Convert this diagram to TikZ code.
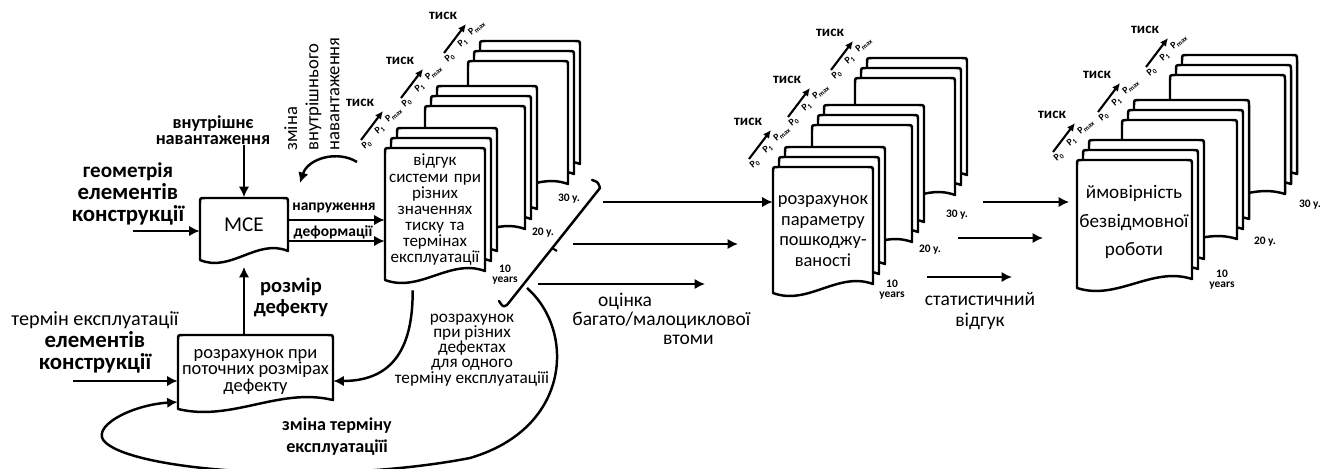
\documentclass[tikz,border=0pt]{standalone}
\usepackage{fontspec}
\setmainfont{Carlito}
\usetikzlibrary{arrows.meta, positioning, calc}

% one page of a document stack: x, y (top left), width, height in pixels
\newcommand{\sheet}[4]{%
  \draw[sheetline] (#1,#2+#4) -- (#1,#2+5) .. controls (#1,#2) .. (#1+5,#2)
    -- (#1+#3-5,#2) .. controls (#1+#3,#2) .. (#1+#3,#2+5)
    -- (#1+#3,#2+#4-9) .. controls (#1+0.65*#3,#2+#4-22) and (#1+0.35*#3,#2+#4+13) .. (#1,#2+#4) -- cycle;}

\begin{document}
\begin{tikzpicture}[x=0.02cm, y=-0.02cm,
        sheetline/.style={draw=black, line width=1.4pt, fill=white, line join=round},
        arrow/.style={-{Latex[length=2.1mm, width=2.1mm]}, line width=1.4pt},
        tiskarrow/.style={-{Latex[length=1.6mm, width=1.5mm]}, line width=1.2pt},
        lbl/.style={align=center, inner sep=0pt},
        tisk/.style={lbl, font=\bfseries\fontsize{8.5}{9}\selectfont},
        pval/.style={lbl, rotate=40, font=\bfseries\fontsize{5.6}{6}\selectfont},
        yr/.style={lbl, font=\bfseries\fontsize{6.5}{5.8}\selectfont}
    ]
    \useasboundingbox (0,0) rectangle (1331,468);

    % inputs of the MCE model
    \node[lbl, font=\bfseries\fontsize{10.4}{9.1}\selectfont] (intload) at (213,130) {внутрішнє\\навантаження};
    \node[lbl, font=\bfseries\fontsize{13}{12.5}\selectfont] (geom) at (128,194) {{\fontsize{12}{12.5}\selectfont геометрія}\\елементів\\конструкції};
    \sheet{200}{198}{88}{62}
    \node[lbl, minimum width=1.76cm, minimum height=1.1cm, font=\fontsize{12}{14}\selectfont] (mce) at (244,225) {МСЕ};

    % calculation for the current defect sizes
    \sheet{178}{335}{155}{74}
    \node[lbl, minimum width=3.1cm, minimum height=1.48cm, font=\fontsize{10.5}{9.6}\selectfont] (calc) at (255.5,372) {розрахунок при\\поточних розмірах\\дефекту};
    \node[lbl, font=\bfseries\fontsize{13}{12.5}\selectfont] (term) at (95,342) {{\mdseries\fontsize{11.5}{12.5}\selectfont термін експлуатації}\\елементів\\конструкції};

    % three stacks of pages: 10, 20 and 30 years, three pressures each
    \foreach \sx/\sy/\sw/\sh/\ax/\ay/\bx/\by in {385/148/100/132/40/-42/83/-87, 773/167/100/126/39/-42/82/-89, 1077/160/115/128/45/-40/93/-85}{
        \foreach \gx/\gy in {\bx/\by, \ax/\ay, 0/0}{
            \foreach \ly in {2,1,0}{\sheet{\sx+\gx+6*\ly}{\sy+\gy-10*\ly}{\sw}{\sh}}
            \draw[tiskarrow] (\sx+\gx-24,\sy+\gy-8) -- (\sx+\gx-2,\sy+\gy-37);
            \node[tisk] (tisk\sx-\gx) at (\sx+\gx-25,\sy+\gy-45) {тиск};
            \node[pval] (pa\sx-\gx) at (\sx+\gx-18,\sy+\gy-3) {P\textsubscript{0}};
            \node[pval] (pb\sx-\gx) at (\sx+\gx-5,\sy+\gy-18) {P\textsubscript{1}};
            \node[pval] (pc\sx-\gx) at (\sx+\gx+9,\sy+\gy-33) {P\textsubscript{max}};
        }
    }
    \node[lbl, text width=1.9cm, minimum width=2cm, minimum height=2.4cm, font=\fontsize{9.7}{9.2}\selectfont] (resp) at (435,210) {відгук\\системи при\\різних\\значеннях\\тиску та\\термінах\\експлуатації};
    \node[lbl, minimum width=2cm, minimum height=2.4cm, font=\fontsize{10.5}{11.7}\selectfont] (dmg) at (823,231) {розрахунок\\параметру\\пошкоджу-\\ваності};
    \node[lbl, minimum width=2.3cm, minimum height=2.4cm, font=\fontsize{10.9}{16}\selectfont] (prob) at (1134,222) {ймовірність\\безвідмовної\\роботи};

    \node[yr] (yra10) at (505,275) {10\\years};
    \node[yr] (yra20) at (543,233) {20 y.};
    \node[yr] (yra30) at (569,199) {30 y.};
    \node[yr] (yrb10) at (892,290) {10\\years};
    \node[yr] (yrb20) at (930,250) {20 y.};
    \node[yr] (yrb30) at (957,215) {30 y.};
    \node[yr] (yrc10) at (1222,280) {10\\years};
    \node[yr] (yrc20) at (1265,242) {20 y.};
    \node[yr] (yrc30) at (1310,205) {30 y.};

    % links of the first stage
    \draw[arrow] (intload.south -| mce.north) -- (mce.north);
    \coordinate (geomin) at (133,231);
    \draw[arrow] (geomin) -- (mce.west |- geomin);
    \node[lbl, font=\bfseries\fontsize{8.8}{10}\selectfont] (stress) at (334,208) {напруження};
    \node[lbl, font=\bfseries\fontsize{8.8}{10}\selectfont] (strain) at (333,232) {деформації};
    \draw[arrow] (mce.east |- 0,220) -- (resp.west |- 0,220);
    \draw[arrow] (mce.east |- 0,241) -- (resp.west |- 0,241);

    \node[lbl, align=left, rotate=90, anchor=north west, font=\fontsize{10.6}{12}\selectfont] (loadchg) at (284,151) {зміна\\внутрішнього\\навантаження};
    \coordinate (fbA) at (357,162);
    \coordinate (fbB) at (300,183);
    \draw[arrow] (fbA) .. controls (338,150) and (308,158) .. (fbB);

    \node[lbl, font=\bfseries\fontsize{11.7}{12}\selectfont] (defsize) at (291,297) {розмір\\дефекту};
    \draw[arrow] (calc.north -| mce.south) -- ([yshift=-8pt]mce.south);
    \coordinate (calcin) at (73,381);
    \draw[arrow] (calcin) -- (calc.west |- calcin);

    % loops back to the defect calculation
    \draw[arrow] ([shift={(28,20)}]resp.south west) .. controls (413,345) and (395,381) .. (calc.east |- 0,381);
    \node[lbl, font=\fontsize{9.8}{8.6}\selectfont] (perdef) at (472,350) {розрахунок\\при різних\\дефектах\\для одного\\терміну експлуатаціїі};
    \coordinate (loopstart) at (527,288);
    \draw[arrow] (loopstart) .. controls (575,330) and (572,428) .. (470,458) .. controls (330,485) and (140,472) .. (106,443) .. controls (88,428) and (130,405) .. (calc.west |- 0,402);
    \node[lbl, font=\bfseries\fontsize{10.3}{12.5}\selectfont] (termchg) at (337,437) {зміна терміну\\експлуатаціїі};

    % bracket over the three service terms
    \draw[line width=1.4pt, line cap=round, line join=round] (592,180) .. controls (598,182) .. (600,188) -- (507,305) .. controls (503,307) .. (499,301);
    \draw[line width=1.2pt] (552,248) -- (557,251);

    \coordinate (fat1) at (603,202);
    \coordinate (fat2) at (573,244);
    \coordinate (fat3) at (538,284);
    \coordinate (fat2e) at (738,244);
    \coordinate (fat3e) at (705,284);
    \draw[arrow] (fat1) -- (dmg.west |- fat1);
    \draw[arrow] (fat2) -- (fat2e);
    \draw[arrow] (fat3) -- (fat3e);
    \node[lbl, align=left, anchor=west, font=\fontsize{11.1}{10.8}\selectfont] (fatigue) at (572,319) {\hspace*{14.7pt}оцінка\\багато/малоциклової\\\hspace*{51.6pt}втоми};

    \coordinate (st1) at (983,202);
    \coordinate (st2) at (958,238);
    \coordinate (st3) at (927,277);
    \coordinate (st2e) at (1043,238);
    \coordinate (st3e) at (1012,277);
    \draw[arrow, shorten >=4pt] (st1) -- (prob.west |- st1);
    \draw[arrow] (st2) -- (st2e);
    \draw[arrow] (st3) -- (st3e);
    \node[lbl, font=\fontsize{11.1}{12.5}\selectfont] (statresp) at (980,311) {статистичний\\відгук};
\end{tikzpicture}
\end{document}
